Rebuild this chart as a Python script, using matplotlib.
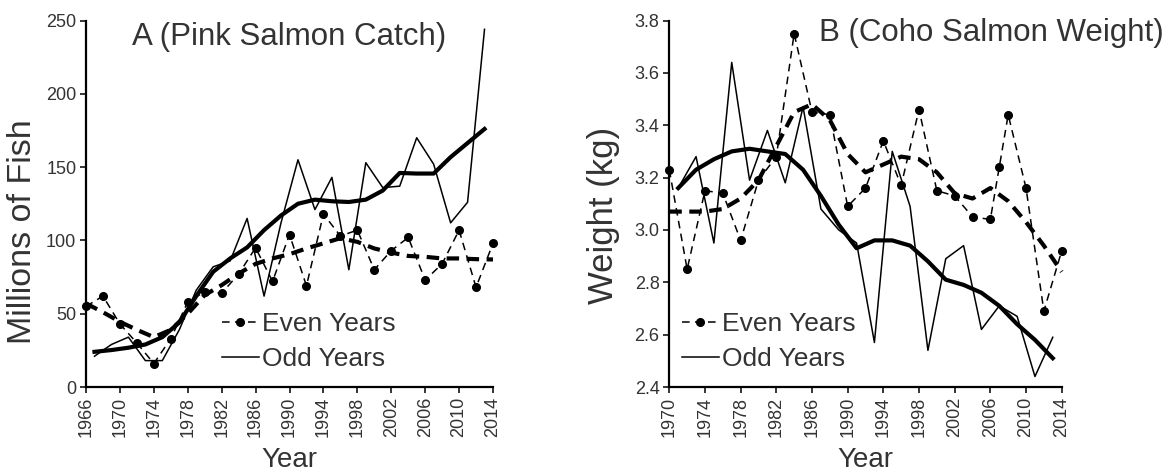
import matplotlib
matplotlib.use("Agg")
import matplotlib.pyplot as plt
import numpy as np

plt.rcParams['font.family'] = ['Liberation Sans', 'DejaVu Sans']

# --- panel A: pink salmon catch (millions of fish) ---
a_even_years = [1966, 1968, 1970, 1972, 1974, 1976, 1978, 1980, 1982, 1984, 1986, 1988, 1990,
                1992, 1994, 1996, 1998, 2000, 2002, 2004, 2006, 2008, 2010, 2012, 2014]
a_even = [55, 62, 43, 30, 16, 33, 58, 65, 64, 77, 95, 72, 104,
          69, 118, 103, 107, 80, 93, 102, 73, 84, 107, 68, 98]
a_even_smooth = [57, 51, 44.5, 39, 34, 39, 50, 62.7, 69.5, 77.4, 84, 87.7, 90.6,
                 94.5, 98, 101.5, 99, 94.5, 91.7, 89.4, 88.8, 87.7, 87.7, 87.2, 87]

a_odd_years = [1967, 1969, 1971, 1973, 1975, 1977, 1979, 1981, 1983, 1985, 1987, 1989,
               1991, 1993, 1995, 1997, 1999, 2001, 2003, 2005, 2007, 2009, 2011, 2013]
a_odd = [21, 29, 34, 18, 18, 39, 66, 82, 86, 115, 62, 112,
         155, 121, 143, 80, 153, 136, 137, 170, 152, 112, 126, 244]
a_odd_smooth = [24, 25.2, 26.8, 29, 34, 44, 62, 78.6, 87.7, 95.2, 107, 117,
                125, 127.8, 126.7, 126.2, 127.8, 134, 146, 145.6, 145.6, 156.8, 166.4, 176]

# --- panel B: coho salmon weight (kg) ---
b_even_years = [1970, 1972, 1974, 1976, 1978, 1980, 1982, 1984, 1986, 1988, 1990, 1992,
                1994, 1996, 1998, 2000, 2002, 2004, 2006, 2007, 2008, 2010, 2012, 2014]
b_even = [3.23, 2.85, 3.15, 3.14, 2.96, 3.19, 3.28, 3.75, 3.45, 3.44, 3.09, 3.16,
          3.34, 3.17, 3.46, 3.15, 3.13, 3.05, 3.04, 3.24, 3.44, 3.16, 2.69, 2.92]
b_smooth_even_years = [1970, 1972, 1974, 1976, 1978, 1980, 1982, 1984, 1986, 1988, 1990, 1992,
                       1994, 1996, 1998, 2000, 2002, 2004, 2006, 2008, 2010, 2012, 2014]
b_even_smooth = [3.07, 3.07, 3.07, 3.08, 3.12, 3.19, 3.32, 3.45, 3.48, 3.42, 3.29, 3.22,
                 3.25, 3.28, 3.27, 3.22, 3.14, 3.12, 3.16, 3.11, 3.03, 2.94, 2.84]

b_odd_years = [1971, 1973, 1975, 1977, 1979, 1981, 1983, 1985, 1987, 1989, 1991,
               1993, 1995, 1997, 1999, 2001, 2003, 2005, 2007, 2009, 2011, 2013]
b_odd = [3.16, 3.28, 2.95, 3.64, 3.19, 3.38, 3.18, 3.47, 3.08, 3.00, 2.95,
         2.57, 3.30, 3.09, 2.54, 2.89, 2.94, 2.62, 2.71, 2.67, 2.44, 2.59]
b_odd_smooth = [3.16, 3.23, 3.27, 3.30, 3.31, 3.30, 3.29, 3.23, 3.13, 3.02, 2.93,
                2.96, 2.96, 2.94, 2.88, 2.81, 2.79, 2.76, 2.71, 2.64, 2.58, 2.51]

txt = '#333333'
W, H = 1173, 475
fig = plt.figure(figsize=(W / 100, H / 100), dpi=100)

axA = fig.add_axes([86 / W, 1 - 387 / H, 407 / W, 366.5 / H])
axB = fig.add_axes([669.3 / W, 1 - 387 / H, 392.4 / W, 366.5 / H])


def draw(ax, ey, ev, sey, es, oy, ov, os_):
    ax.plot(ey, ev, color='black', lw=1.1, dashes=(5, 3.5), marker='o', ms=5.5,
            clip_on=False, zorder=3, label='Even Years')
    ax.plot(oy, ov, color='black', lw=1.1, clip_on=False, zorder=3, label='Odd Years')
    ax.plot(sey, es, color='black', lw=3, dashes=(3, 1.8), clip_on=False, zorder=4)
    ax.plot(oy, os_, color='black', lw=3, clip_on=False, zorder=4)
    for s in ['top', 'right']:
        ax.spines[s].set_visible(False)
    for s in ['left', 'bottom']:
        ax.spines[s].set_linewidth(1.6)
    ax.tick_params(direction='out', length=4, width=1.1, labelsize=13,
                   labelcolor=txt, pad=3)
    ax.tick_params(axis='x', rotation=90)
    ax.set_xlabel('Year', fontsize=20, color=txt, labelpad=7)


draw(axA, a_even_years, a_even, a_even_years, a_even_smooth, a_odd_years, a_odd, a_odd_smooth)
axA.set_xlim(1966, 2014)
axA.set_ylim(0, 250)
axA.set_xticks(np.arange(1966, 2015, 4))
axA.set_yticks(np.arange(0, 251, 50))
axA.text(0.5, 0.955, 'A (Pink Salmon Catch)', transform=axA.transAxes, ha='center',
         va='center', fontsize=22.5, color=txt)
fig.text(23 / W, 1 - 232 / H, 'Millions of Fish', rotation=90, ha='center', va='center',
         fontsize=24.5, color=txt)

draw(axB, b_even_years, b_even, b_smooth_even_years, b_even_smooth, b_odd_years, b_odd, b_odd_smooth)
axB.set_xlim(1970, 2014)
axB.set_ylim(2.4, 3.8)
axB.set_xticks(np.arange(1970, 2015, 4))
axB.set_yticks(np.arange(2.4, 3.81, 0.2))
axB.yaxis.set_major_formatter(matplotlib.ticker.FormatStrFormatter('%.1f'))
fig.text(991.5 / W, 1 - 33 / H, 'B (Coho Salmon Weight)', ha='center', va='center',
         fontsize=22.5, color=txt)
fig.text(603 / W, 1 - 215 / H, 'Weight (kg)', rotation=90, ha='center', va='center',
         fontsize=25, color=txt)

for ax, x0 in [(axA, 222), (axB, 682)]:
    leg = ax.legend(loc='center left', bbox_to_anchor=(x0 / W, 1 - 341.5 / H),
                    bbox_transform=fig.transFigure, frameon=False, fontsize=19,
                    handlelength=1.4, handletextpad=0.1, labelspacing=0.4,
                    borderpad=0, borderaxespad=0, numpoints=1)
    for t in leg.get_texts():
        t.set_color(txt)

fig.savefig('out.png', dpi=100)
